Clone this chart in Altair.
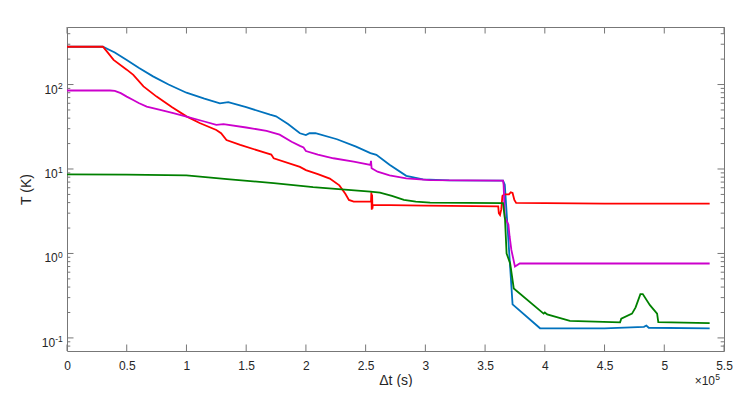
import altair as alt
import pandas as pd

# ---- data (x in units of 1e5 s, T in K) ----
blue_x = [0, 0.30, 0.40, 0.50, 0.60, 0.72, 0.85, 1.0, 1.15, 1.28, 1.35, 1.5, 1.70, 1.75, 1.85, 1.95, 2.0,
          2.03, 2.08, 2.26, 2.42, 2.54, 2.59, 2.70, 2.84, 2.98, 3.2, 3.65, 3.665, 3.73, 3.96, 4.5, 4.83,
          4.85, 4.87, 5.38]
blue_T = [280, 280, 240, 195, 158, 125, 100, 80, 68, 60, 62, 54, 44, 42, 34, 26.5, 25.2,
          26.5, 26.5, 22.5, 18.4, 15.4, 14.7, 11.2, 8.3, 7.55, 7.35, 7.3, 6.5, 0.25, 0.13, 0.13, 0.135,
          0.14, 0.132, 0.13]

red_x = [0, 0.30, 0.33, 0.39, 0.50, 0.555, 0.64, 0.75, 0.88, 1.0, 1.11, 1.25, 1.29, 1.335, 1.45, 1.67,
         1.71, 1.73, 1.95, 2.0, 2.10, 2.20, 2.28, 2.33, 2.36, 2.40, 2.545, 2.548, 2.551, 2.554, 2.557,
         2.56, 3.0, 3.61, 3.615, 3.625, 3.635, 3.645, 3.66, 3.70, 3.715, 3.73, 3.745, 3.76, 4.5, 5.38]
red_T = [280, 280, 250, 196, 150, 130, 95, 72, 54, 42, 35, 29, 26.5, 22, 19.3, 15.4,
         14.8, 13.4, 10.6, 9.7, 8.7, 7.7, 6.4, 5.1, 4.3, 4.1, 4.1, 5.3, 3.3, 5.0, 3.4,
         3.75, 3.68, 3.6, 3.0, 2.85, 3.3, 4.8, 5.0, 5.0, 5.3, 5.2, 4.3, 3.97, 3.9, 3.9]

mag_x = [0, 0.36, 0.40, 0.45, 0.50, 0.55, 0.60, 0.667, 0.78, 0.89, 1.0, 1.15, 1.25, 1.31, 1.50, 1.67,
         1.78, 1.88, 1.95, 1.98, 2.0, 2.1, 2.23, 2.4, 2.54, 2.545, 2.55, 2.6, 2.7, 2.84, 3.04, 3.65,
         3.655, 3.665, 3.695, 3.705, 3.72, 3.75, 3.79, 5.38]
mag_T = [85, 85, 84, 79, 72, 66, 60.5, 54.8, 50, 45.8, 41.7, 36.5, 33.3, 34, 31, 28.3,
         25.5, 21, 18.8, 18, 16.3, 14.8, 13.4, 12.2, 11.2, 12.5, 10.2, 9.3, 8.4, 7.76, 7.4, 7.3,
         6.5, 2.7, 2.2, 1.6, 1.1, 0.70, 0.76, 0.76]

green_x = [0, 0.5, 1.0, 1.34, 1.73, 2.02, 2.06, 2.3, 2.54, 2.62, 2.72, 2.82, 2.92, 3.04, 3.65, 3.667,
           3.68, 3.71, 3.74, 3.99, 4.0, 4.02, 4.21, 4.63, 4.64, 4.73, 4.76, 4.80, 4.82, 4.88, 4.94,
           4.95, 5.38]
green_T = [8.65, 8.6, 8.4, 7.6, 6.8, 6.2, 6.1, 5.75, 5.4, 5.26, 4.8, 4.3, 4.1, 4.0, 3.95, 2.5,
           1.0, 0.76, 0.385, 0.194, 0.2, 0.19, 0.159, 0.153, 0.169, 0.194, 0.23, 0.33, 0.33, 0.244, 0.194,
           0.154, 0.15]

series_names = ["blue", "red", "magenta", "green"]
series_colors = ["#0072BD", "#FF0000", "#CC00CC", "#008000"]

x_ticks = [0, 0.5, 1, 1.5, 2, 2.5, 3, 3.5, 4, 4.5, 5, 5.5]
y_major = [0.1, 1, 10, 100]
y_exp = ["-1", "0", "1", "2"]
y_minor = [0.08, 0.09, 0.2, 0.3, 0.4, 0.5, 0.6, 0.7, 0.8, 0.9, 2, 3, 4, 5, 6, 7, 8, 9,
           20, 30, 40, 50, 60, 70, 80, 90, 200, 300, 400]

rows = []
for name, xs, ts in zip(series_names, [blue_x, red_x, mag_x, green_x], [blue_T, red_T, mag_T, green_T]):
    for i, (xv, tv) in enumerate(zip(xs, ts)):
        rows.append({"series": name, "x": xv, "T": tv, "i": i})
df = pd.DataFrame(rows)

W, H = 657, 324
FONT = "Liberation Sans"
TXT = "#262626"
AX = "#777777"
MAJ, MIN = 6.5, 3.3

xscale = alt.Scale(domain=[0, 5.5], nice=False, zero=False)
yscale = alt.Scale(type="log", domain=[0.07, 480], nice=False)
cscale = alt.Scale(domain=series_names, range=series_colors)

main_x = alt.Axis(orient="bottom", values=x_ticks, labelExpr="'' + datum.value", ticks=False,
                  tickSize=0, domain=False, grid=False, labelFont=FONT, labelFontSize=12,
                  labelColor=TXT, labelPadding=9, labelFlush=False, labelOverlap=False,
                  title="Δt (s)", titleFont=FONT, titleFontSize=14, titleFontWeight="normal",
                  titleColor=TXT, titlePadding=2)
main_y = alt.Axis(orient="left", values=y_major, labels=False, ticks=False, tickSize=0,
                  domain=False, grid=False,
                  title="T (K)", titleFont=FONT, titleFontSize=14, titleFontWeight="normal",
                  titleColor=TXT, titlePadding=34)

lines = alt.Chart(df).mark_line(strokeWidth=1.8, clip=True).encode(
    x=alt.X("x:Q", scale=xscale, axis=main_x),
    y=alt.Y("T:Q", scale=yscale, axis=main_y),
    color=alt.Color("series:N", scale=cscale, legend=None),
    order=alt.Order("i:Q"),
)

# inward tick marks on all four sides (MATLAB box style)
xt = alt.Chart(pd.DataFrame({"v": x_ticks}))
ymaj = alt.Chart(pd.DataFrame({"v": y_major}))
ymin = alt.Chart(pd.DataFrame({"v": y_minor}))

def xrule(y0, y1):
    return xt.mark_rule(color=AX, strokeWidth=1).encode(
        x=alt.X("v:Q", scale=xscale, axis=None), y=alt.value(y0), y2=alt.value(y1))

def yrule(src, x0, x1):
    return src.mark_rule(color=AX, strokeWidth=1).encode(
        y=alt.Y("v:Q", scale=yscale, axis=None), x=alt.value(x0), x2=alt.value(x1))

tick_layers = [
    xrule(H, H - MAJ), xrule(0, MAJ),
    yrule(ymaj, 0, MAJ), yrule(ymaj, W, W - MAJ),
    yrule(ymin, 0, MIN), yrule(ymin, W, W - MIN),
]

# y tick labels as 10 with raised exponent (MATLAB style)
ylab = alt.Chart(pd.DataFrame({"v": y_major, "e": y_exp})).transform_calculate(
    base="'10'", bx="-4.3 - (length(datum.e) > 1 ? 7.6 : 4.9)"
)
ylab_base = ylab.mark_text(align="right", baseline="alphabetic", font=FONT, fontSize=12,
                           color=TXT, dy=9).encode(
    y=alt.Y("v:Q", scale=yscale, axis=None), x=alt.X("bx:Q", scale=None), text="base:N")
ylab_exp = ylab.mark_text(align="right", baseline="alphabetic", font=FONT, fontSize=8.5,
                          color=TXT, dy=4.5).encode(
    y=alt.Y("v:Q", scale=yscale, axis=None), x=alt.value(-4.3), text="e:N")

exp_df = pd.DataFrame({"b": ["×10"], "e": ["5"]})
exp_base = alt.Chart(exp_df).mark_text(
    align="right", baseline="alphabetic", font=FONT, fontSize=12, color=TXT
).encode(x=alt.value(W - 9), y=alt.value(H + 34), text="b:N")
exp_sup = alt.Chart(exp_df).mark_text(
    align="right", baseline="alphabetic", font=FONT, fontSize=8.5, color=TXT
).encode(x=alt.value(W - 4), y=alt.value(H + 29), text="e:N")

chart = alt.layer(lines, *tick_layers, ylab_base, ylab_exp, exp_base, exp_sup).resolve_axis(
    x="independent", y="independent"
).properties(
    width=W, height=H,
    padding={"left": 59, "top": 19, "right": 21, "bottom": 36},
    autosize=alt.AutoSizeParams(type="none"),
    background="white",
).configure_view(stroke=AX, strokeWidth=1)

chart.save("out.html", embed_options={"renderer": "svg", "actions": False})
